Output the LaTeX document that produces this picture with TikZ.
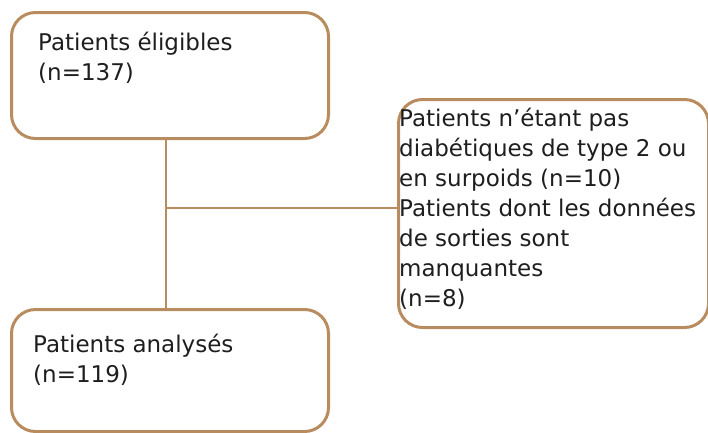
\documentclass[tikz,border=0pt]{standalone}
\usepackage{fontspec}
\setmainfont{DejaVu Sans}
\definecolor{boxline}{RGB}{185,140,95}
\definecolor{ink}{RGB}{30,30,30}
\begin{document}
\begin{tikzpicture}[x=1pt,y=-1pt,
  box/.style={draw=boxline, line width=3pt, rounded corners=24pt, anchor=north west, inner sep=0pt},
  link/.style={draw=boxline, line width=2.8pt},
  txt/.style={anchor=north west, inner sep=0pt, align=left, text=ink, font=\fontsize{23}{30}\selectfont}]
\useasboundingbox (0,0) rectangle (708,432);
\node[box, minimum width=317pt, minimum height=126pt] (top) at (10,11) {};
\node[box, minimum width=317pt, minimum height=122pt] (bot) at (10,308) {};
\node[box, minimum width=310pt, minimum height=228pt] (excl) at (397,98) {};
\node[txt] (toptxt) at (38,32) {Patients éligibles\\(n=137)};
\node[txt] (bottxt) at (33,334) {Patients analysés\\(n=119)};
\node[txt] (excltxt) at (399,108) {Patients n’étant pas\\diabétiques de type 2 ou\\en surpoids (n=10)\\Patients dont les données\\de sorties sont\\manquantes\\(n=8)};
\coordinate (v) at (166,0);
\coordinate (j) at (166,208);
\draw[link] (v |- top.south) -- (v |- bot.north);
\draw[link] (j) -- (j -| excl.west);
\end{tikzpicture}
\end{document}
